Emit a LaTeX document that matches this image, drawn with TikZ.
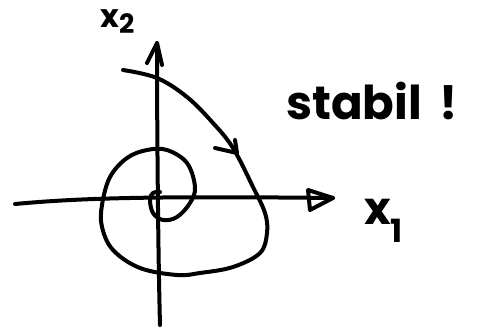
\documentclass[tikz,border=0pt]{standalone}
\usepackage{fontspec}
\setmainfont{Poppins}
\begin{document}
\begin{tikzpicture}[x=0.75pt,y=-0.75pt,
  pen/.style={line width=3pt,line cap=round,line join=round},
  lbl/.style={inner sep=0pt,font=\bfseries\fontsize{26}{28}\selectfont}]
\useasboundingbox (0,0) rectangle (478,328);
% axes
\coordinate (xs) at (15,204);
\coordinate (xe) at (333,198);
\coordinate (ys) at (160,325);
\coordinate (ye) at (157,43);
\draw[pen] (xs) .. controls (80,198) and (150,196) .. (xe);
\draw[pen] (ys) .. controls (158,250) and (157,120) .. (ye);
% arrowheads
\draw[pen] (308,190) -- (xe) -- (310,210) -- cycle;
\draw[pen] (147,63) -- (ye) -- (162,65);
% spiral
\draw[pen] plot[smooth,tension=0.6] coordinates {
(123,70) (157,78) (187,97) (213,123) (233,148) (253,187) (265,213) (267,233)
(260,253) (233,267) (200,273) (177,275) (140,268) (113,250) (102,227)
(102,205) (110,177) (127,158) (147,150) (167,150) (187,163) (195,187)
(190,203) (177,217) (163,220) (153,213) (150,200) (153,193) (160,192)};
% direction mark
\coordinate (am) at (237,153);
\draw[pen] (215,148) -- (am) -- (235,140);
% labels
\node[lbl,anchor=base west,font=\bfseries\fontsize{24}{26}\selectfont] (x2) at (100,28) {x\raisebox{-4pt}{\fontsize{20}{20}\selectfont 2}};
\node[lbl,anchor=base west,font=\bfseries\fontsize{34}{36}\selectfont] (x1) at (364,224) {x\raisebox{-14pt}{\fontsize{24}{24}\selectfont 1}};
\node[lbl,anchor=base west,font=\bfseries\fontsize{35}{37}\selectfont] (st) at (286,119) {stabil\ \,!};
\end{tikzpicture}
\end{document}
